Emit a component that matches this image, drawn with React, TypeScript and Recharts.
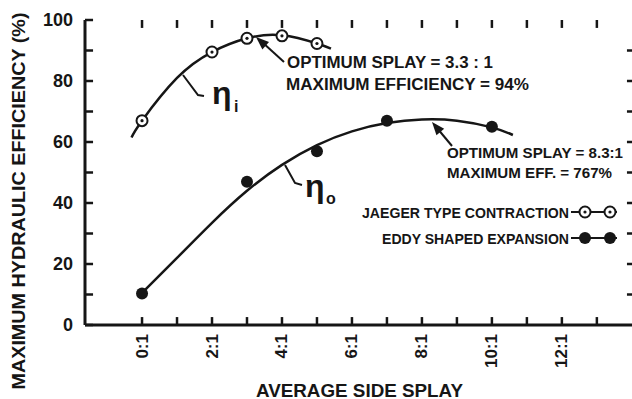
import { ComposedChart, Line, Scatter, XAxis, YAxis, ReferenceLine, Customized } from "recharts";

// measured points (average side splay, efficiency %)
const jaegerSplay = [0, 2, 3, 4, 5];
const jaegerEff = [67, 89.5, 94, 94.8, 92.3];
const eddySplay = [0, 3, 5, 7, 10];
const eddyEff = [10.3, 47, 57, 67, 65];

// hand-drawn fitted curves
const jaegerCurveSplay = [-0.3, 0, 1, 2, 3, 4, 5, 5.4];
const jaegerCurveEff = [61.5, 67, 81, 89.5, 94, 95, 92.3, 90.6];
const eddyCurveSplay = [0, 1, 2, 3, 4, 5, 6, 7, 8, 9, 10, 10.6];
const eddyCurveEff = [10.5, 22, 33.5, 44, 52.5, 59, 63.5, 66.2, 67.4, 67, 64.8, 62.3];

const splayTicks = [0, 1, 2, 3, 4, 5, 6, 7, 8, 9, 10, 11, 12, 13];
const splayLabels = ["0:1", "2:1", "4:1", "6:1", "8:1", "10:1", "12:1"];
const effTicks = [0, 10, 20, 30, 40, 50, 60, 70, 80, 90, 100];
const effLabels = ["0", "20", "40", "60", "80", "100"];
const rightTicks = [10, 20, 30, 40, 50, 60, 70, 80, 90];

const toRows = (xs: number[], ys: number[]) => xs.map((x, i) => ({ x, y: ys[i] }));

const jaegerPts = toRows(jaegerSplay, jaegerEff);
const eddyPts = toRows(eddySplay, eddyEff);
const jaegerCurve = toRows(jaegerCurveSplay, jaegerCurveEff);
const eddyCurve = toRows(eddyCurveSplay, eddyCurveEff);

const INK = "#161616";
const FONT = "'Liberation Sans', Arial, sans-serif";
const X_MIN = -1.63;
const X_MAX = 14.09;
// inward tick length (8px) expressed in axis units
const TICK_Y = 2.6;
const TICK_X = 0.23;

const BottomTick = ({ x, y, payload }: any) => {
  const label = `${payload.value}:1`;
  if (!splayLabels.includes(label)) return <g />;
  return (
    <text
      x={x}
      y={y + 9}
      transform={`rotate(-90 ${x} ${y + 9})`}
      textAnchor="end"
      dominantBaseline="central"
      fontFamily={FONT}
      fontWeight="bold"
      fontSize={17}
      fill={INK}
    >
      {label}
    </text>
  );
};

const LeftTick = ({ x, y, payload }: any) => {
  const label = String(payload.value);
  if (!effLabels.includes(label)) return <g />;
  return (
    <text
      x={x - 12}
      y={y}
      textAnchor="end"
      dominantBaseline="central"
      fontFamily={FONT}
      fontWeight="bold"
      fontSize={18}
      fill={INK}
    >
      {label}
    </text>
  );
};

const OpenDot = ({ cx, cy }: any) => (
  <g>
    <circle cx={cx} cy={cy} r={5.5} fill="#fff" stroke={INK} strokeWidth={2} />
    <circle cx={cx} cy={cy} r={1.6} fill={INK} />
  </g>
);

const FilledDot = ({ cx, cy }: any) => <circle cx={cx} cy={cy} r={6} fill={INK} />;

const txt = (x: number, y: number, s: string, size: number, len?: number, anchor = "start") => (
  <text
    x={x}
    y={y}
    textAnchor={anchor as any}
    dominantBaseline="central"
    fontFamily={FONT}
    fontWeight="bold"
    fontSize={size}
    fill={INK}
    textLength={len}
    lengthAdjust="spacingAndGlyphs"
  >
    {s}
  </text>
);

const arrowHead = (tx: number, ty: number, fx: number, fy: number) => {
  const dx = tx - fx;
  const dy = ty - fy;
  const L = Math.hypot(dx, dy);
  const ux = dx / L;
  const uy = dy / L;
  const bx = tx - ux * 13;
  const by = ty - uy * 13;
  const px = -uy * 5;
  const py = ux * 5;
  return <polygon points={`${tx},${ty} ${bx + px},${by + py} ${bx - px},${by - py}`} fill={INK} />;
};

const Annotations = () => (
  <g>
    {/* eta_i */}
    <polyline points="183,75 198,95 204,96" fill="none" stroke={INK} strokeWidth={2} />
    <text x={212} y={104} fontFamily={FONT} fontWeight="bold" fontSize={32} fill={INK}>η</text>
    <text x={234} y={112} fontFamily={FONT} fontWeight="bold" fontSize={16} fill={INK}>i</text>
    {/* eta_o */}
    <polyline points="285,165 295,183 302,185" fill="none" stroke={INK} strokeWidth={2} />
    <text x={305} y={197} fontFamily={FONT} fontWeight="bold" fontSize={32} fill={INK}>η</text>
    <text x={326} y={204} fontFamily={FONT} fontWeight="bold" fontSize={16} fill={INK}>o</text>

    {/* optimum annotations */}
    <line x1={284} y1={62} x2={262} y2={42} stroke={INK} strokeWidth={2} />
    {arrowHead(256, 37, 284, 62)}
    {txt(287, 62, "OPTIMUM SPLAY = 3.3 : 1", 16, 206)}
    {txt(286, 84, "MAXIMUM EFFICIENCY = 94%", 16, 243)}

    <line x1={452} y1={146} x2={437} y2={128} stroke={INK} strokeWidth={2} />
    {arrowHead(432, 122, 452, 146)}
    {txt(447, 152, "OPTIMUM SPLAY = 8.3:1", 15, 176)}
    {txt(447, 172, "MAXIMUM EFF. = 767%", 15, 165)}

    {/* legend */}
    {txt(569, 212, "JAEGER TYPE CONTRACTION", 15, 207, "end")}
    <line x1={571} y1={212} x2={617} y2={212} stroke={INK} strokeWidth={2} />
    <OpenDot cx={585} cy={212} />
    <OpenDot cx={610} cy={212} />
    {txt(569, 238, "EDDY SHAPED EXPANSION", 15, 187, "end")}
    <line x1={571} y1={238} x2={617} y2={238} stroke={INK} strokeWidth={2} />
    <FilledDot cx={585} cy={238} />
    <FilledDot cx={610} cy={238} />

    {/* axis titles */}
    <text
      x={18.5}
      y={201}
      transform="rotate(-90 18.5 201)"
      textAnchor="middle"
      dominantBaseline="central"
      fontFamily={FONT}
      fontWeight="bold"
      fontSize={18.5}
      fill={INK}
      textLength={377}
      lengthAdjust="spacingAndGlyphs"
    >
      MAXIMUM HYDRAULIC EFFICIENCY (%)
    </text>
    {txt(359.5, 390, "AVERAGE SIDE SPLAY", 19, 207, "middle")}
  </g>
);

export default function App() {
  const axisLine = { stroke: INK, strokeWidth: 3 };
  const domainX: [number, number] = [X_MIN, X_MAX];
  const tickStyle = { stroke: INK, strokeWidth: 2.5, ifOverflow: "visible" as const, xAxisId: "b", yAxisId: "l" };
  return (
    <div
      style={{
        position: "absolute",
        left: 0,
        top: 0,
        width: 632,
        height: 399,
        overflow: "hidden",
        background: "#fff",
      }}
    >
      <ComposedChart width={640} height={399} margin={{ top: 20, right: 5, bottom: 0, left: 0 }}>
        <XAxis
          xAxisId="b"
          type="number"
          dataKey="x"
          domain={domainX}
          allowDataOverflow
          ticks={splayTicks}
          interval={0}
          height={74}
          tickSize={0}
          tickMargin={0}
          tickLine={false}
          axisLine={axisLine}
          tick={<BottomTick />}
        />
        <XAxis
          xAxisId="t"
          orientation="top"
          type="number"
          dataKey="x"
          domain={domainX}
          allowDataOverflow
          height={0}
          tick={false}
          tickLine={false}
          axisLine={axisLine}
        />
        <YAxis
          yAxisId="l"
          type="number"
          dataKey="y"
          domain={[0, 100]}
          allowDataOverflow
          ticks={effTicks}
          interval={0}
          width={85}
          tickSize={0}
          tickMargin={0}
          tickLine={false}
          axisLine={axisLine}
          tick={<LeftTick />}
        />

        {/* inward tick marks on all four sides */}
        {splayTicks.map((t) => (
          <ReferenceLine key={`b${t}`} {...tickStyle} segment={[{ x: t, y: 0 }, { x: t, y: TICK_Y }]} />
        ))}
        {splayTicks.map((t) => (
          <ReferenceLine key={`t${t}`} {...tickStyle} segment={[{ x: t, y: 100 }, { x: t, y: 100 - TICK_Y }]} />
        ))}
        {effTicks.map((t) => (
          <ReferenceLine key={`l${t}`} {...tickStyle} segment={[{ x: X_MIN, y: t }, { x: X_MIN + TICK_X, y: t }]} />
        ))}
        {rightTicks.map((t) => (
          <ReferenceLine key={`r${t}`} {...tickStyle} segment={[{ x: X_MAX, y: t }, { x: X_MAX - TICK_X, y: t }]} />
        ))}

        <Line
          xAxisId="b"
          yAxisId="l"
          data={jaegerCurve}
          dataKey="y"
          type="natural"
          stroke={INK}
          strokeWidth={2.5}
          dot={false}
          isAnimationActive={false}
        />
        <Line
          xAxisId="b"
          yAxisId="l"
          data={eddyCurve}
          dataKey="y"
          type="natural"
          stroke={INK}
          strokeWidth={2.5}
          dot={false}
          isAnimationActive={false}
        />
        <Scatter
          xAxisId="b"
          yAxisId="l"
          data={jaegerPts}
          dataKey="y"
          shape={<OpenDot />}
          isAnimationActive={false}
        />
        <Scatter
          xAxisId="b"
          yAxisId="l"
          data={eddyPts}
          dataKey="y"
          shape={<FilledDot />}
          isAnimationActive={false}
        />
        <Customized component={Annotations} />
      </ComposedChart>
    </div>
  );
}
